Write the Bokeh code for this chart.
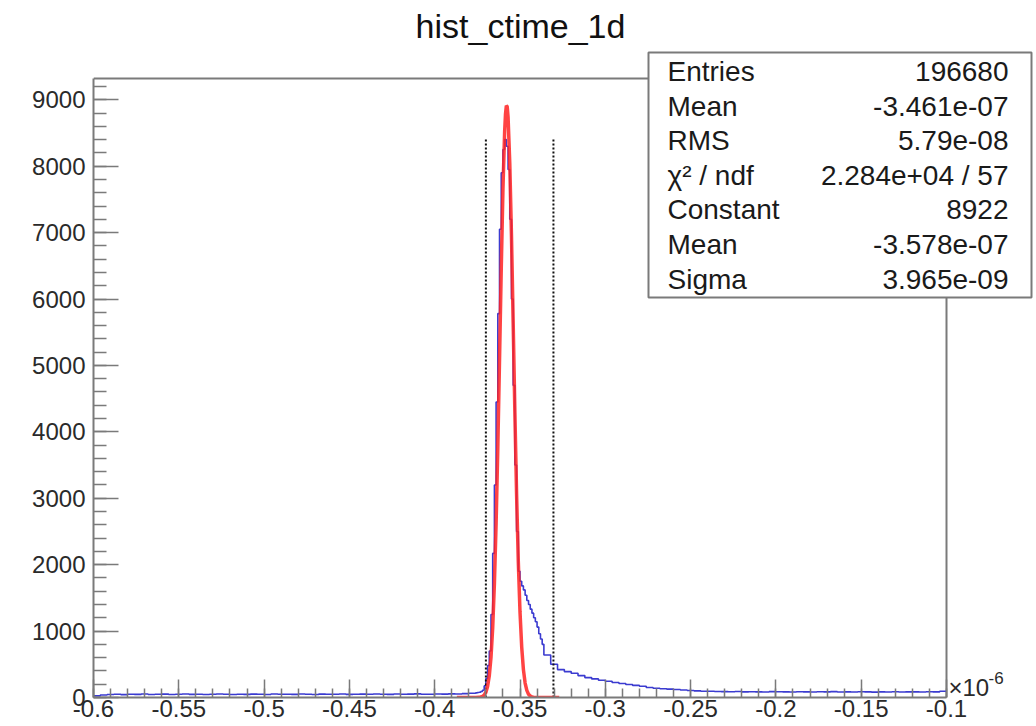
import numpy as np
from bokeh.plotting import figure
from bokeh.models import FixedTicker, Label
from bokeh.embed import file_html
from bokeh.resources import INLINE

# ---------------- data ----------------
title_text = "hist_ctime_1d"
x_ticks = [-0.6, -0.55, -0.5, -0.45, -0.4, -0.35, -0.3, -0.25, -0.2, -0.15, -0.1]
x_tick_labels = ["-0.6", "-0.55", "-0.5", "-0.45", "-0.4", "-0.35", "-0.3",
                 "-0.25", "-0.2", "-0.15", "-0.1"]
y_ticks = [0, 1000, 2000, 3000, 4000, 5000, 6000, 7000, 8000, 9000]

# histogram (x in units of 1e-6), three bin segments
seg_a_start, seg_a_width = -0.600, 0.004
seg_a_counts = [25, 38, 45, 48, 44, 50, 47, 52, 46, 49,
                51, 45, 48, 53, 47, 50, 46, 49, 52, 48,
                45, 50, 47, 51, 49, 46, 52, 48, 50, 47,
                53, 49, 46, 51, 48, 50, 52, 47, 49, 51,
                48, 53, 50, 47, 52, 49, 51, 54, 50, 48,
                53, 51, 55, 52, 58, 65]
seg_b_start, seg_b_width = -0.376, 0.001
seg_b_counts = [70, 75, 80, 90, 110, 175, 285, 480, 700, 1250,
                2170, 3200, 4450, 5780, 7050, 7900, 8250, 8400, 8300, 7950,
                7200, 6000, 4700, 3500, 2500, 1900, 1750, 1680, 1620, 1540,
                1460, 1400, 1330, 1270, 1200, 1140, 1060, 960, 880, 800]
seg_c_start, seg_c_width = -0.336, 0.004
seg_c_counts = [640, 500, 420, 390, 365, 330, 300, 280, 260, 245,
                225, 210, 195, 182, 170, 150, 140, 132, 126, 120,
                112, 105, 100, 95, 93, 90,
                88, 86, 90, 84, 87, 85, 83, 88, 86, 84,
                82, 87, 85, 83, 86, 84, 88, 82, 85, 83,
                86, 84, 81, 85, 83, 86, 82, 84, 85, 83,
                86, 84, 95]

# gaussian fit curve
fit_x = [-0.387, -0.380, -0.376, -0.374, -0.372, -0.371, -0.370, -0.369, -0.368, -0.367,
         -0.366, -0.365, -0.364, -0.363, -0.362, -0.361, -0.360, -0.359, -0.3585, -0.358,
         -0.3575, -0.357, -0.356, -0.355, -0.354, -0.353, -0.352, -0.351, -0.350, -0.349,
         -0.348, -0.347, -0.346, -0.345, -0.344, -0.343, -0.342, -0.340, -0.336, -0.327]
fit_y = [0, 0, 0.2, 2, 15, 35, 79, 165, 326, 605,
         1052, 1716, 2627, 3776, 5092, 6443, 7649, 8522, 8784, 8911,
         8896, 8742, 8048, 6954, 5638, 4287, 3060, 2050, 1288, 760,
         420, 218, 107, 49, 22, 9, 4, 0.5, 0, 0]

fit_range = [-0.3700, -0.3304]
fit_range_top = 8420

stats_names = ["Entries", "Mean", "RMS", "\u03c7\u00b2 / ndf", "Constant", "Mean", "Sigma"]
stats_values = ["196680", "-3.461e-07", "5.79e-08", "2.284e+04 / 57",
                "8922", "-3.578e-07", "3.965e-09"]

# ---------------- layout ----------------
W, H = 1036, 726
FL, FR, FT, FB = 93, 946, 78, 697          # ROOT frame in canvas pixels
XMIN, XMAX = -0.6, -0.1
YMIN, YMAX = 0, 9320
sx = (XMAX - XMIN) / (FR - FL)
sy = (YMAX - YMIN) / (FB - FT)
# Bokeh frame extends to the right and top canvas edges so that the title and
# the stats box are drawn inside it (annotations are clipped to the frame)
VX1 = XMAX + (W - FR) * sx
VY1 = YMAX + FT * sy


def dx(px):
    return XMIN + (px - FL) * sx


def dy(py):
    return YMIN + (FB - py) * sy


p = figure(width=W, height=H, x_range=(XMIN, VX1), y_range=(YMIN, VY1),
           output_backend="svg", toolbar_location=None,
           min_border_left=FL, min_border_right=0,
           min_border_top=0, min_border_bottom=H - FB)
p.background_fill_color = "white"
p.border_fill_color = "white"
p.xgrid.visible = False
p.ygrid.visible = False
p.outline_line_color = None

frame_col = "#7a7a7a"
font = "Liberation Sans"

xminor = [round(v, 3) for v in np.arange(-0.6, -0.0999, 0.01)]
p.xaxis.ticker = FixedTicker(ticks=x_ticks, minor_ticks=xminor)
p.xaxis.major_label_overrides = {t: l for t, l in zip(x_ticks, x_tick_labels)}
yminor = list(range(0, 9400, 200))
p.yaxis.ticker = FixedTicker(ticks=y_ticks, minor_ticks=yminor)
p.xaxis.bounds = (XMIN, XMAX)
p.yaxis.bounds = (YMIN, YMAX)

for ax in (p.xaxis[0], p.yaxis[0]):
    ax.axis_line_color = frame_col
    ax.axis_line_width = 2
    ax.major_tick_line_color = frame_col
    ax.minor_tick_line_color = frame_col
    ax.major_tick_line_width = 1.5
    ax.minor_tick_line_width = 1.5
    ax.major_tick_out = 0
    ax.minor_tick_out = 0
    ax.major_label_text_font = font
    ax.major_label_text_color = "#2a2a2a"
    ax.major_label_text_font_size = "24px"

p.xaxis.major_tick_in = 18
p.xaxis.minor_tick_in = 9
p.xaxis.major_label_standoff = 2
p.yaxis.major_tick_in = 25
p.yaxis.minor_tick_in = 13
p.yaxis.major_label_standoff = 8

# ROOT frame: top and right edges
p.line([XMIN, XMAX, XMAX], [YMAX, YMAX, YMIN], line_color=frame_col, line_width=2)

# ---------------- histogram ----------------
hx, hy = [], []
for start, width, counts in ((seg_a_start, seg_a_width, seg_a_counts),
                             (seg_b_start, seg_b_width, seg_b_counts),
                             (seg_c_start, seg_c_width, seg_c_counts)):
    for i, c in enumerate(counts):
        left = start + i * width
        hx += [left, left + width]
        hy += [c, c]

p.line(hx, hy, line_color="#3b3bd0", line_width=1.6)

# fit range markers
p.segment(x0=fit_range, y0=[0, 0], x1=fit_range, y1=[fit_range_top] * 2,
          line_color="#111111", line_width=2, line_dash="2 2")

# fit curve
p.line(fit_x, fit_y, line_color="#ff2222", line_width=3.5, line_alpha=0.85)

# ---------------- title ----------------
p.add_layout(Label(x=dx(520), y=dy(25), text=title_text, text_align="center",
                   text_baseline="middle", text_font=font,
                   text_font_size="34px", text_color="#111111"))

# x10^-6
p.add_layout(Label(x=dx(948), y=dy(687), text="\u00d710", text_align="left",
                   text_baseline="middle", text_font=font,
                   text_font_size="24px", text_color="#2a2a2a"))
p.add_layout(Label(x=dx(988), y=dy(677), text="-6", text_align="left",
                   text_baseline="middle", text_font=font,
                   text_font_size="17px", text_color="#2a2a2a"))

# ---------------- stats box ----------------
p.quad(left=[dx(648)], right=[dx(1031)], top=[dy(52)], bottom=[dy(297)],
       fill_color="white", line_color=frame_col, line_width=2)
row_y = [71, 105.6, 140.2, 174.8, 209.4, 244, 278.6]
for ry, name, val in zip(row_y, stats_names, stats_values):
    p.add_layout(Label(x=dx(667), y=dy(ry), text=name, text_align="left",
                       text_baseline="middle", text_font=font,
                       text_font_size="28px", text_color="#1a1a1a"))
    p.add_layout(Label(x=dx(1008), y=dy(ry), text=val, text_align="right",
                       text_baseline="middle", text_font=font,
                       text_font_size="28px", text_color="#1a1a1a"))

open("out.html", "w").write(file_html(p, INLINE))
